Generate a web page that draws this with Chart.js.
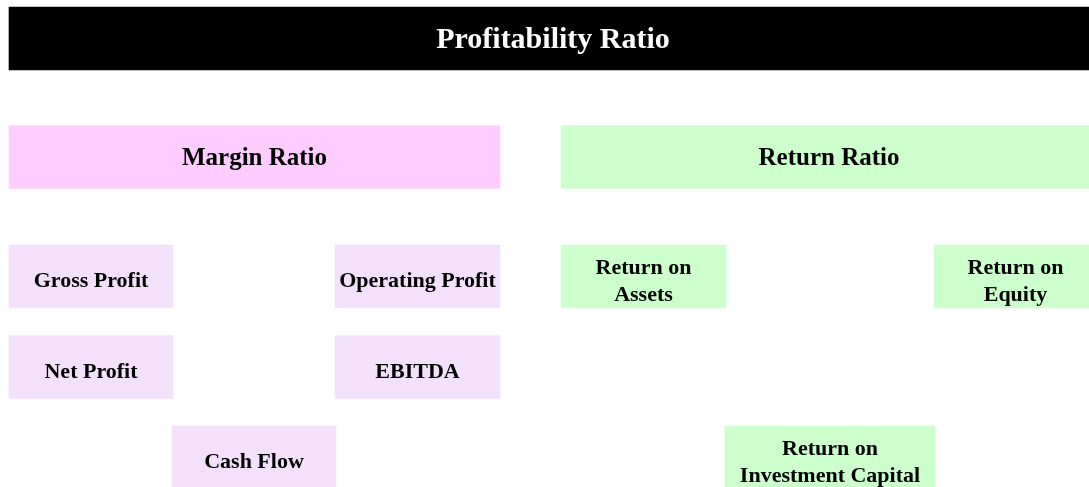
<!DOCTYPE html>
<html>
<head>
<meta charset="utf-8">
<script src="https://cdn.jsdelivr.net/npm/chart.js@4"></script>
<style>
  html, body { margin: 0; padding: 0; background: #ffffff; }
  #wrap { width: 1089px; height: 487px; position: relative; }
</style>
</head>
<body>
<div id="wrap"><canvas id="c"></canvas></div>
<script>
// ---- Data (diagram nodes) ----
const boxLabels = [
  'Profitability Ratio',
  'Margin Ratio', 'Return Ratio',
  'Gross Profit', 'Operating Profit', 'Return on\nAssets', 'Return on\nEquity',
  'Net Profit', 'EBITDA',
  'Cash Flow', 'Return on\nInvestment Capital'
];
const boxLevel = [0, 1, 1, 2, 2, 2, 2, 2, 2, 2, 2];           // 0 title, 1 group, 2 item
const boxGroup = ['top', 'margin', 'return', 'margin', 'margin', 'return', 'return', 'margin', 'margin', 'margin', 'return'];
const boxStart = [9, 9, 561, 9, 335, 561, 934, 9, 335, 172, 725];
const boxEnd   = [1097, 500, 1097, 173, 500, 726, 1097, 173, 500, 336, 935];
const boxRow   = [38.5, 157, 157, 276.5, 276.5, 276.5, 276.5, 367, 367, 457.5, 457.5];

// ---- Styles ----
const fillFor = (lvl, grp) => {
  if (lvl === 0) return '#000000';
  if (grp === 'margin') return lvl === 1 ? 'rgb(255,204,255)' : 'rgb(243,225,252)';
  return 'rgb(204,255,204)';
};
const fontSizeFor = lvl => (lvl === 0 ? 30 : lvl === 1 ? 25 : 22);
const textColorFor = lvl => (lvl === 0 ? '#ffffff' : '#000000');

const labelPlugin = {
  id: 'boxLabels',
  afterDatasetsDraw(chart) {
    const meta = chart.getDatasetMeta(0);
    const ctx = chart.ctx;
    ctx.save();
    meta.data.forEach((el, i) => {
      const lvl = boxLevel[i];
      const size = fontSizeFor(lvl);
      const cx = (el.x + el.base) / 2;
      const cy = el.y;
      const lines = boxLabels[i].split('\n');
      const lh = 27;
      const shift = lvl === 2 ? 3.5 : 0;
      ctx.font = 'bold ' + size + 'px "Liberation Serif", "Times New Roman", serif';
      ctx.fillStyle = textColorFor(lvl);
      ctx.textAlign = 'center';
      ctx.textBaseline = 'alphabetic';
      lines.forEach((ln, k) => {
        const y = cy + (k - (lines.length - 1) / 2) * lh + size * 0.662 / 2 + shift;
        ctx.fillText(ln, cx, y);
      });
    });
    ctx.restore();
  }
};

new Chart(document.getElementById('c'), {
  type: 'bar',
  data: {
    datasets: [{
      data: boxLabels.map((_, i) => ({ x: [boxStart[i], boxEnd[i]], y: boxRow[i] })),
      backgroundColor: boxLevel.map((l, i) => fillFor(l, boxGroup[i])),
      borderWidth: 0,
      barThickness: 63,
      grouped: false,
      clip: false
    }]
  },
  options: {
    indexAxis: 'y',
    responsive: true,
    maintainAspectRatio: false,
    animation: false,
    layout: { padding: 0 },
    plugins: { legend: { display: false }, tooltip: { enabled: false } },
    scales: {
      x: { type: 'linear', min: 0, max: 1089, offset: false, display: false },
      y: { type: 'linear', min: 0, max: 487, reverse: true, offset: false, display: false }
    }
  },
  plugins: [labelPlugin]
});
</script>
</body>
</html>
